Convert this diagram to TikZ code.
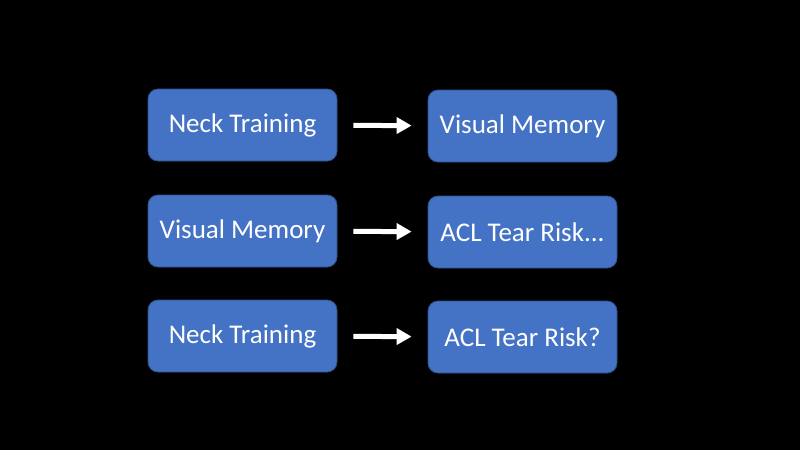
\documentclass[tikz,border=0pt]{standalone}
\usepackage{fontspec}
\setmainfont{Carlito}
\usepackage{xcolor}
\usetikzlibrary{positioning,arrows.meta}
\definecolor{boxblue}{HTML}{4472C4}
\definecolor{boxline}{HTML}{2F528F}
\tikzset{
  box/.style={draw=boxline,line width=0.8pt,fill=boxblue,rounded corners=10pt,
    minimum width=189pt,minimum height=72pt,text=white,
    font=\fontsize{27pt}{31pt}\selectfont},
  link/.style={white,line width=5pt,-{Triangle[length=15pt,width=16pt]},
    shorten <=16pt,shorten >=16pt}
}
\begin{document}
\begin{tikzpicture}[x=1pt,y=-1pt]
	\fill[black] (0,0) rectangle (800,450);
	\useasboundingbox (0,0) rectangle (800,450);
	% left column
	\node[box] (neckA) at (242.5,125) {Neck Training};
	\node[box] (visA) at (242.5,231) {Visual Memory};
	\node[box] (neckB) at (242.5,336) {Neck Training};
	% right column
	\node[box] (visB) at (522.5,126) {Visual Memory};
	\node[box] (aclA) at (522.5,232) {ACL Tear Risk...};
	\node[box] (aclB) at (522.5,337) {ACL Tear Risk?};
	% arrows
	\draw[link] (neckA) -- (visB);
	\draw[link] (visA) -- (aclA);
	\draw[link] (neckB) -- (aclB);
\end{tikzpicture}
\end{document}
